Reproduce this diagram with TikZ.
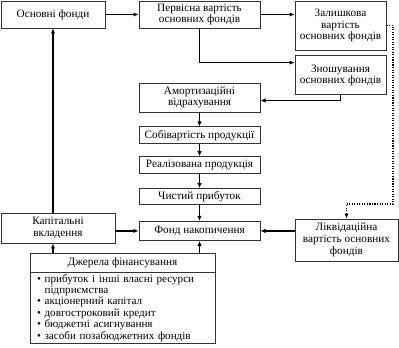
\documentclass[tikz,border=0pt]{standalone}
\usepackage{fontspec}
\setmainfont{Liberation Serif}
\usepackage{tikz}
\usetikzlibrary{positioning,calc,arrows.meta}

\begin{document}
\begin{tikzpicture}[
    x=0.025cm,
    y=-0.025cm,
    font=\fontsize{8}{8.3}\selectfont,
    box/.style={
        rectangle,
        draw=black!80,
        line width=0.6pt,
        inner sep=1pt,
        align=center
      },
    midbox/.style={box,minimum width=3.025cm},
    arrow/.style={-{Latex[length=3.6pt,width=3.2pt]},line width=0.9pt},
    dotline/.style={-{Latex[length=3.6pt,width=3.2pt]},line width=0.8pt,densely dotted}
    ]

    \useasboundingbox (0,0) rectangle (399,347);

    \node[box,minimum width=2.6cm,minimum height=0.675cm] (osn) at (53,14.5) {Основні фонди};
    \node[midbox,minimum height=0.675cm] (pervisna) at (199.5,14.5) {Первісна вартість\\основних фондів};
    \node[box,minimum width=2.275cm,minimum height=1.225cm] (zalysh) at (340.5,25.5) {Залишкова\\вартість\\основних фондів};
    \node[box,minimum width=2.275cm,minimum height=0.975cm,below=0.125cm of zalysh] (znosh) {Зношування\\основних фондів};

    \node[midbox,minimum height=0.725cm] (amort) at (199.5,97.5) {Амортизаційні\\відрахування};
    \node[midbox,minimum height=0.425cm,below=0.35cm of amort] (sobiv) {Собівартість продукції};
    \node[midbox,minimum height=0.425cm,below=0.3cm of sobiv] (realiz) {Реалізована продукція};
    \node[midbox,minimum height=0.4cm,below=0.35cm of realiz] (prybutok) {Чистий прибуток};
    \node[midbox,minimum height=0.475cm,below=0.4cm of prybutok] (fond) {Фонд накопичення};

    \node[box,minimum width=2.85cm,minimum height=0.75cm] (kapital) at (58,228) {Капітальні\\вкладення};
    \node[box,minimum width=2.575cm,minimum height=1.05cm] (likvid) at (346.5,240) {Ліквідаційна\\вартість основних\\фондів};

    \node[box,minimum width=4.625cm,minimum height=0.475cm] (dzherela) at (122.5,262.5) {Джерела фінансування};
    \node[box,below=0pt of dzherela,minimum width=4.625cm,minimum height=1.625cm,
          text width=4.625cm-10pt,inner xsep=5pt,align=left,
          font=\fontsize{7.9}{6.7}\selectfont] (dzhlist) {%
        • прибуток і інші власні ресурси\\
        \phantom{• }підприємства\\
        • акціонерний капітал\\
        • довгостроковий кредит\\
        • бюджетні асигнування\\
        • засоби позабюджетних фондів};

    \coordinate (turn) at (393,204);

    \draw[arrow] (osn)--(pervisna);
    \draw[arrow] (pervisna.east)--(pervisna.east -| zalysh.west);
    \draw[arrow] (pervisna.south) |- ($(znosh.north west)!0.18!(znosh.south west)$);
    \draw[arrow] (znosh.south) |- ($(amort.north east)!0.6!(amort.south east)$);
    \draw[arrow] (amort)--(sobiv);
    \draw[arrow] (sobiv)--(realiz);
    \draw[arrow] (realiz)--(prybutok);
    \draw[arrow] (prybutok)--(fond);
    \draw[arrow] (kapital.east |- fond.west)--(fond.west);
    \draw[arrow] (kapital.north -| osn.south)--(osn.south);
    \draw[arrow] (likvid.west |- fond.east)--(fond.east);
    \draw[dotline] (zalysh.east) -| (turn) -| (likvid.north);
    \draw[arrow] (dzherela.north -| osn.south)--(kapital.south -| osn.south);
    \draw[arrow] (dzherela.north -| fond.south)--(fond.south);

  \end{tikzpicture}
\end{document}
